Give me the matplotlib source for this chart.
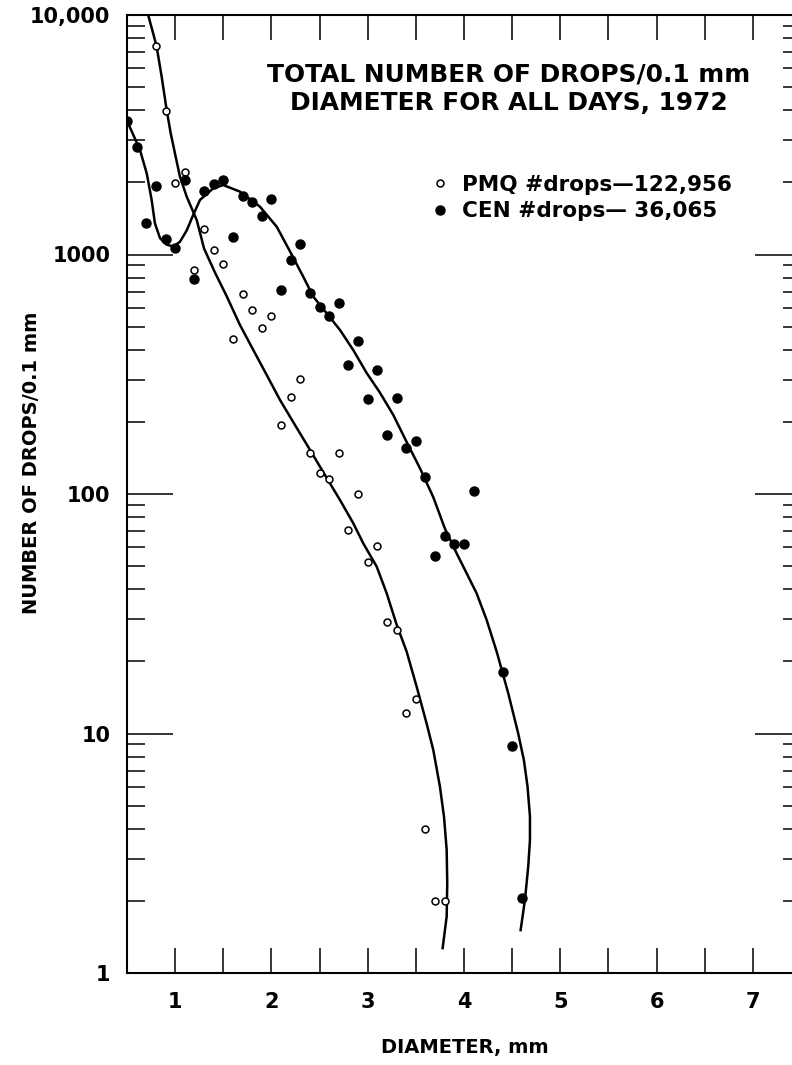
import numpy as np
import matplotlib
matplotlib.use("Agg")
import matplotlib.pyplot as plt
from matplotlib.ticker import MultipleLocator, LogLocator, FixedLocator, NullFormatter

plt.rcParams['font.family'] = ['DejaVu Sans']
plt.rcParams['font.weight'] = 'bold'

# PMQ (open circles), drops per 0.1 mm diameter bin
pmq_d = [0.8, 0.9, 1.0, 1.1, 1.2, 1.3, 1.4, 1.5, 1.6, 1.7, 1.8, 1.9, 2.0, 2.1, 2.2, 2.3,
         2.4, 2.5, 2.6, 2.7, 2.8, 2.9, 3.0, 3.1, 3.2, 3.3, 3.4, 3.5, 3.6, 3.7, 3.8]
pmq_n = [7450, 3975, 1995, 2204, 858, 1281, 1044, 913, 445, 687, 589, 493, 555, 194, 255, 303,
         148, 122, 115, 149, 70.5, 99.7, 52, 60.8, 29.3, 27, 12.2, 13.9, 4.0, 2.0, 2.0]

# CEN (filled circles)
cen_d = [0.5, 0.6, 0.7, 0.8, 0.9, 1.0, 1.1, 1.2, 1.3, 1.4, 1.5, 1.6, 1.7, 1.8, 1.9, 2.0,
         2.1, 2.2, 2.3, 2.4, 2.5, 2.6, 2.7, 2.8, 2.9, 3.0, 3.1, 3.2, 3.3, 3.4, 3.5, 3.6,
         3.7, 3.8, 3.9, 4.0, 4.1, 4.4, 4.5, 4.6]
cen_n = [3620, 2818, 1349, 1932, 1157, 1061, 2047, 792, 1847, 1963, 2047, 1186, 1755, 1652, 1448, 1700,
         714, 946, 1106, 692, 604, 556, 627, 346, 437, 250, 329, 177, 252, 155, 166, 118,
         55.2, 66.5, 61.7, 61.8, 103, 18.1, 8.9, 2.06]

# hand-drawn fitted curves
pmq_fit_d = [0.72, 0.767, 0.808, 0.86, 0.912, 0.954, 0.998, 1.05, 1.12, 1.224, 1.30, 1.414,
             1.535, 1.673, 1.812, 1.951, 2.089, 2.245, 2.40, 2.556, 2.712, 2.85, 2.954, 3.093,
             3.197, 3.30, 3.404, 3.508, 3.612, 3.681, 3.75, 3.792, 3.82, 3.826, 3.82, 3.778]
pmq_fit_n = [10000, 8515, 7380, 5525, 4010, 3206, 2646, 2113, 1744, 1393, 1060, 840,
             670, 508, 399, 314, 247, 194, 153, 120, 94.4, 75.5, 62.2, 49.8,
             38.5, 28.5, 22, 15.7, 11.0, 8.53, 6.0, 4.5, 3.27, 2.37, 1.72, 1.27]

cen_fit_d = [0.50, 0.635, 0.705, 0.756, 0.79, 0.843, 0.91, 0.98, 1.05, 1.12, 1.19, 1.258,
             1.396, 1.50, 1.673, 1.88, 2.055, 2.193, 2.331, 2.435, 2.574, 2.712, 2.85, 2.989,
             3.127, 3.265, 3.404, 3.543, 3.681, 3.80, 3.924, 4.027, 4.131, 4.235, 4.339, 4.46,
             4.563, 4.622, 4.66, 4.685, 4.685, 4.667, 4.633, 4.588]
cen_fit_n = [3620, 2730, 2180, 1690, 1350, 1170, 1100, 1080, 1130, 1260, 1470, 1690,
             1890, 1950, 1830, 1585, 1306, 1030, 807, 667, 568, 484, 399, 320,
             265, 214, 165, 128, 97, 72, 56.5, 46.7, 38.5, 29.8, 22, 14.7,
             10.0, 7.74, 6.0, 4.5, 3.59, 2.78, 2.02, 1.51]

ytick_vals = [1, 10, 100, 1000, 10000]
ytick_labels = ['1', '10', '100', '1000', '10,000']
xtick_vals = [1, 2, 3, 4, 5, 6, 7]

fig = plt.figure(figsize=(7.92, 10.65), dpi=100)
ax = fig.add_axes([127/792, 92/1065, 674/792, 958/1065])

ax.plot(pmq_fit_d, pmq_fit_n, color='black', lw=1.8)
ax.plot(cen_fit_d, cen_fit_n, color='black', lw=1.8)
h1, = ax.plot(pmq_d, pmq_n, 'o', ms=5, mfc='white', mec='black', mew=1.1, ls='none')
h2, = ax.plot(cen_d, cen_n, 'o', ms=6.5, mfc='black', mec='black', ls='none')

ax.set_yscale('log')
ax.set_xlim(0.5, 7.5)
ax.set_ylim(1, 10000)

ax.xaxis.set_major_locator(FixedLocator(xtick_vals))
ax.xaxis.set_minor_locator(MultipleLocator(0.5))
ax.set_yticks(ytick_vals)
ax.set_yticklabels(ytick_labels)
ax.yaxis.set_minor_locator(LogLocator(base=10, subs=np.arange(2, 10)))
ax.yaxis.set_minor_formatter(NullFormatter())

ax.tick_params(axis='x', which='both', direction='in', top=True, bottom=True,
               length=18, width=1.1, labelsize=15, pad=14)
ax.tick_params(axis='y', which='major', direction='in', left=True, right=True,
               length=33, width=1.1, labelsize=15, pad=12)
ax.tick_params(axis='y', which='minor', direction='in', left=True, right=True,
               length=13, width=1.1)
for s in ax.spines.values():
    s.set_linewidth(1.5)

ax.set_xlabel('DIAMETER, mm', fontsize=14, fontweight='bold')
ax.xaxis.set_label_coords(0.501, -0.068)
ax.set_ylabel('NUMBER OF DROPS/0.1 mm', fontsize=14, fontweight='bold')
ax.yaxis.set_label_coords(-0.128, 0.533)

ax.text(0.566, 0.923, 'TOTAL NUMBER OF DROPS/0.1 mm\nDIAMETER FOR ALL DAYS, 1972',
        transform=ax.transAxes, ha='center', va='center', fontsize=17.9, linespacing=1.2)

ax.legend([h1, h2], ['PMQ #drops\u2014122,956', 'CEN #drops\u2014 36,065'],
          loc='upper left', bbox_to_anchor=(0.452, 0.833), frameon=False,
          fontsize=15.5, handlelength=0.8, handletextpad=0.6, labelspacing=0.3,
          borderpad=0, borderaxespad=0)

fig.savefig('out.png', dpi=100)
